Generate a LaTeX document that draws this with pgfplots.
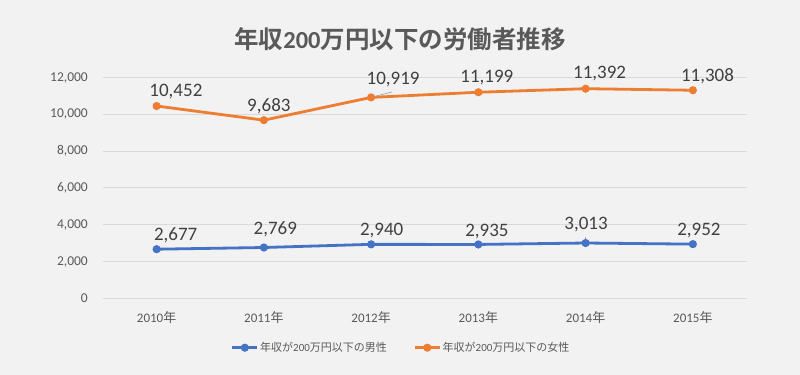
\documentclass[border=0pt]{standalone}
\usepackage{fontspec}
\setmainfont{Carlito}
\newfontfamily\jp{Noto Sans CJK JP}[BoldFont={Noto Sans CJK JP Bold}]
\usepackage{pgfplots}
\pgfplotsset{compat=1.18}
\usepackage{pgfplotstable}
\definecolor{bgcol}{HTML}{F2F2F2}
\definecolor{gridcol}{HTML}{D9D9D9}
\definecolor{serblue}{HTML}{4472C4}
\definecolor{serorange}{HTML}{ED7D31}
\definecolor{titlecol}{HTML}{595959}
\definecolor{labcol}{HTML}{404040}
\definecolor{leadcol}{HTML}{A6A6A6}

\pgfplotstableread{
x y dx dy
0 2677 19.1 8.3
1 2769 11.4 12.6
2 2940 10.6 8.6
3 2935 8.6 7.6
4 3013 0.4 14
5 2952 6.1 8.6
}\men
\pgfplotstableread{
x y dx dy
0 10452 19.3 10
1 9683 5 8.6
2 10919 22 12.7
3 11199 8.5 9.7
4 11392 14 10.4
5 11308 14.6 8.3
}\women

\begin{document}
\begin{tikzpicture}
\fill[bgcol] (0,0) rectangle (800bp,375bp);
\useasboundingbox (0,0) rectangle (800bp,375bp);
\node[text=titlecol, font=\fontsize{24.5bp}{28bp}\selectfont\bfseries, inner sep=0pt] at (400bp,336bp) {{\jp 年収}200{\jp 万円以下の労働者推移}};
\begin{axis}[
  at={(103bp,76.5bp)}, anchor=south west,
  width=643.5bp, height=221bp, scale only axis,
  xmin=-0.5, xmax=5.5, ymin=0, ymax=12000,
  xtick={0,1,2,3,4,5},
  xticklabels={2010{\jp 年},2011{\jp 年},2012{\jp 年},2013{\jp 年},2014{\jp 年},2015{\jp 年}},
  ytick={0,2000,4000,6000,8000,10000,12000},
  scaled y ticks=false,
  /pgf/number format/1000 sep={,},
  /pgf/number format/assume math mode=true,
  axis line style={draw=none},
  major tick length=0pt,
  ymajorgrids,
  grid style={draw=gridcol, line width=1bp},
  yticklabel style={anchor=east, inner sep=0pt, xshift=-15bp, font=\fontsize{13.5bp}{16bp}\selectfont, text=titlecol},
  xticklabel style={anchor=base, inner sep=0pt, yshift=-23.8bp, font=\fontsize{13bp}{16bp}\selectfont, text=titlecol},
  clip=false,
  legend columns=2,
  legend style={at={(0.463,-0.2226)}, anchor=center, draw=none, fill=none,
    font=\fontsize{11bp}{13bp}\selectfont, text=titlecol,
    /tikz/every even column/.append style={column sep=25bp},
    inner sep=0pt, nodes={inner xsep=1.5bp, inner ysep=0pt}},
  legend image code/.code={\draw[mark repeat=2,mark phase=2,#1] plot coordinates {(0bp,0bp) (12.5bp,0bp) (25bp,0bp)};},
]
\addplot[serblue, line width=2.8bp, mark=*, mark size=2.6bp, mark options={solid, fill=serblue},
  nodes near coords, point meta=\thisrow{y},
  visualization depends on={\thisrow{dx}\as\dx},
  visualization depends on={\thisrow{dy}\as\dy},
  every node near coord/.append style={anchor=base, inner sep=0pt, xshift=\dx bp, yshift=\dy bp,
    font=\fontsize{19bp}{22bp}\selectfont, text=labcol}]
  table[x=x,y=y]{\men};
\addlegendentry{{\jp 年収が}200{\jp 万円以下の男性}}
\addplot[serorange, line width=2.8bp, mark=*, mark size=2.6bp, mark options={solid, fill=serorange},
  nodes near coords, point meta=\thisrow{y},
  visualization depends on={\thisrow{dx}\as\dx},
  visualization depends on={\thisrow{dy}\as\dy},
  every node near coord/.append style={anchor=base, inner sep=0pt, xshift=\dx bp, yshift=\dy bp,
    font=\fontsize{19bp}{22bp}\selectfont, text=labcol}]
  table[x=x,y=y]{\women};
\addlegendentry{{\jp 年収が}200{\jp 万円以下の女性}}
\draw[leadcol, line width=0.75bp] (axis cs:2,10919) ++(2bp,0.5bp) -- ++(19bp,5bp);
\draw[leadcol, line width=0.75bp] (axis cs:4,3013) ++(0bp,2bp) -- ++(0bp,4.5bp);
\end{axis}
\end{tikzpicture}
\end{document}
